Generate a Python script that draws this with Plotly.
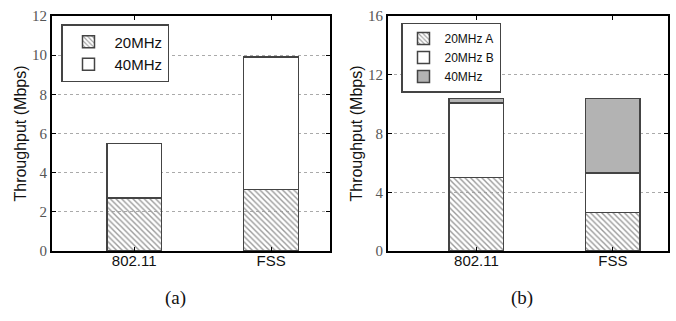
import plotly.graph_objects as go

categories = ["802.11", "FSS"]

# Panel (a)
a_20mhz = [2.7, 3.15]
a_40mhz = [2.8, 6.75]
a_ticks = [0, 2, 4, 6, 8, 10, 12]

# Panel (b)
b_20mhz_a = [5.0, 2.63]
b_20mhz_b = [5.07, 2.68]
b_40mhz = [0.33, 5.06]
b_ticks = [0, 4, 8, 12, 16]

SANS = "Liberation Sans, Arial, sans-serif"
SERIF = "Liberation Serif, DejaVu Serif, serif"
OUT = dict(color="#444444", width=1.5)
CLEAR = "rgba(255,255,255,0)"
hatch = dict(shape="\\", fgcolor="#9a9a9a", bgcolor=CLEAR, size=4, solidity=0.35)

fig = go.Figure()

fig.add_trace(go.Bar(x=categories, y=a_20mhz, name="20MHz", width=0.4,
                     marker=dict(color=CLEAR, pattern=hatch, line=OUT),
                     xaxis="x", yaxis="y", legend="legend"))
fig.add_trace(go.Bar(x=categories, y=a_40mhz, name="40MHz", width=0.4,
                     marker=dict(color="white", line=OUT),
                     xaxis="x", yaxis="y", legend="legend"))

fig.add_trace(go.Bar(x=categories, y=b_20mhz_a, name="20MHz A", width=0.4,
                     marker=dict(color=CLEAR, pattern=hatch, line=OUT),
                     xaxis="x2", yaxis="y2", legend="legend2"))
fig.add_trace(go.Bar(x=categories, y=b_20mhz_b, name="20MHz B", width=0.4,
                     marker=dict(color="white", line=OUT),
                     xaxis="x2", yaxis="y2", legend="legend2"))
fig.add_trace(go.Bar(x=categories, y=b_40mhz, name="40MHz", width=0.4,
                     marker=dict(color="#b3b3b3", line=OUT),
                     xaxis="x2", yaxis="y2", legend="legend2"))

ydom = [(321 - 251) / 321, (321 - 16) / 321]

xcommon = dict(type="category", showline=True, linecolor="black", linewidth=2,
               mirror="ticks", ticks="inside", ticklen=4, tickcolor="black",
               tickfont=dict(family=SANS, size=15, color="#111"), showgrid=False,
               zeroline=False, automargin=False, ticklabelstandoff=-5)
ycommon = dict(showline=True, linecolor="black", linewidth=2, mirror="ticks",
               ticks="inside", ticklen=4, tickcolor="black",
               tickfont=dict(family=SERIF, size=15, color="#555"),
               showgrid=True, gridcolor="#aaaaaa", griddash="dot", gridwidth=1,
               zeroline=False, automargin=False,
               title=dict(text="Throughput (Mbps)", font=dict(family=SANS, size=16, color="#111"),
                          standoff=1))

fig.update_layout(
    template="none",
    width=676, height=321,
    margin=dict(l=0, r=0, t=0, b=0),
    paper_bgcolor="white", plot_bgcolor="white",
    barmode="stack",
    showlegend=True,
    xaxis=dict(xcommon, domain=[52 / 676, 330 / 676], range=[-0.6, 1.43], anchor="y"),
    yaxis=dict(ycommon, domain=ydom, range=[0, 12], tickvals=a_ticks, anchor="x"),
    xaxis2=dict(xcommon, domain=[388 / 676, 668 / 676], range=[-0.648, 1.404], anchor="y2"),
    yaxis2=dict(ycommon, domain=ydom, range=[0, 16], tickvals=b_ticks, anchor="x2"),
    legend=dict(x=61 / 676, y=(321 - 24) / 321, xanchor="left", yanchor="top",
                bgcolor="white", bordercolor="#444", borderwidth=1.5, itemwidth=42,
                traceorder="normal", font=dict(family=SANS, size=15, color="#111")),
    legend2=dict(x=401 / 676, y=(321 - 22.5) / 321, xanchor="left", yanchor="top",
                 bgcolor="white", bordercolor="#444", borderwidth=1.5, itemwidth=32,
                 traceorder="normal", font=dict(family=SANS, size=12, color="#111")),
    annotations=[
        dict(text="(a)", x=175 / 676, y=(321 - 298) / 321, xref="paper", yref="paper",
             xanchor="center", yanchor="middle",
             showarrow=False, font=dict(family=SERIF, size=19, color="#111")),
        dict(text="(b)", x=522 / 676, y=(321 - 298) / 321, xref="paper", yref="paper",
             xanchor="center", yanchor="middle",
             showarrow=False, font=dict(family=SERIF, size=19, color="#111")),
    ],
)

fig.write_html("out.html")
